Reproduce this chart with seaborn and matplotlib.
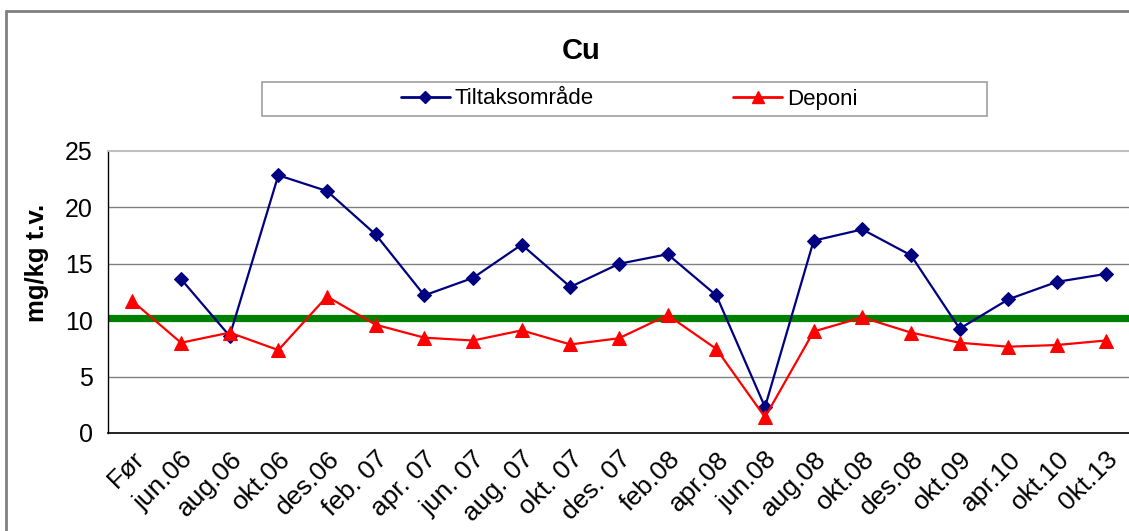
import numpy as np
import pandas as pd
import matplotlib
matplotlib.use("Agg")
import matplotlib.pyplot as plt
from matplotlib.lines import Line2D
from matplotlib.patches import Rectangle
import seaborn as sns

categories = ["Før", "jun.06", "aug.06", "okt.06", "des.06", "feb. 07", "apr. 07",
              "jun. 07", "aug. 07", "okt. 07", "des. 07", "feb.08", "apr.08", "jun.08",
              "aug.08", "okt.08", "des.08", "okt.09", "apr.10", "okt.10", "0kt.13"]
tiltak = [np.nan, 13.65, 8.6, 22.85, 21.45, 17.6, 12.2, 13.75, 16.7, 12.95, 15.0, 15.85,
          12.2, 2.3, 17.05, 18.05, 15.75, 9.25, 11.85, 13.4, 14.1]
deponi = [11.7, 8.0, 8.9, 7.35, 12.1, 9.6, 8.45, 8.2, 9.1, 7.85, 8.4, 10.45, 7.45, 1.4,
          9.0, 10.25, 8.9, 8.0, 7.65, 7.8, 8.2]
grense = 10.2
title = "Cu"
ylabel = "mg/kg t.v."
series_names = ["Tiltaksområde", "Deponi"]

sns.set_style("white")
plt.rcParams["font.family"] = ["Liberation Sans", "DejaVu Sans"]
plt.rcParams["text.color"] = "black"
plt.rcParams["axes.labelcolor"] = "black"
plt.rcParams["xtick.labelcolor"] = "black"
plt.rcParams["ytick.labelcolor"] = "black"

fig = plt.figure(figsize=(11.29, 5.31), dpi=100)
ax = fig.add_axes([108 / 1129, 1 - 433 / 531, 1022 / 1129, 282 / 531])

idx = np.arange(len(categories))
df = pd.DataFrame({"x": idx, "tiltak": tiltak, "deponi": deponi})

ax.axhline(grense, color="#008000", lw=5.2, zorder=2)
sns.lineplot(data=df.dropna(subset=["tiltak"]), x="x", y="tiltak", ax=ax, color="#000080",
             lw=1.6, marker="D", markersize=7.5, markeredgecolor="#000080", zorder=3)
sns.lineplot(data=df, x="x", y="deponi", ax=ax, color="#FF0000",
             lw=1.6, marker="^", markersize=10, markeredgecolor="#FF0000", zorder=3)

ax.set_xlim(-0.5, len(categories) - 0.5)
ax.set_ylim(0, 25)
ax.set_yticks([0, 5, 10, 15, 20, 25])
ax.set_xticks(idx)
ax.set_xticklabels(categories, rotation=45, ha="right", rotation_mode="anchor", fontsize=19)
ax.set_xticks(np.arange(-0.5, len(categories), 1.0), minor=True)
ax.tick_params(axis="x", which="major", length=0, pad=10)
ax.tick_params(axis="x", which="minor", length=7, width=1.2, color="#808080", direction="out")
ax.tick_params(axis="y", length=7, width=1, color="#000000", direction="out", labelsize=18, pad=4)
ax.set_xlabel("")
ax.set_ylabel(ylabel, fontsize=18.5, fontweight="bold")
ax.yaxis.set_label_coords((49 - 108) / 1022, (433 - 263) / 282)

for v in [5, 10, 15, 20]:
    ax.axhline(v, color="#808080", lw=1.0, zorder=1)
ax.spines["right"].set_visible(False)
ax.spines["top"].set_color("#c0c0c0")
ax.spines["top"].set_linewidth(1.5)
ax.spines["left"].set_color("#000000")
ax.spines["bottom"].set_color("#000000")
ax.spines["left"].set_linewidth(1.0)
ax.spines["bottom"].set_linewidth(1.2)

fig.text(581 / 1129, 1 - 51 / 531, title, ha="center", va="center", fontsize=21, fontweight="bold")

# legend frame
fig.add_artist(Rectangle((262 / 1129, 1 - 116 / 531), 725 / 1129, 34 / 531,
                         transform=fig.transFigure, fill=False, edgecolor="#a0a0a0", lw=1.2))
handles = [Line2D([], [], color="#000080", lw=2, marker="D", markersize=6),
           Line2D([], [], color="#FF0000", lw=2, marker="^", markersize=8)]
fig.legend(handles, series_names, loc="center", bbox_to_anchor=(629 / 1129, 1 - 99 / 531),
           ncol=2, frameon=False, fontsize=16, handlelength=2.2, handletextpad=0.2,
           columnspacing=6.3, borderpad=0, borderaxespad=0)

# outer chart border
fig.add_artist(Line2D([6 / 1129, 6 / 1129], [0, 1 - 11 / 531], transform=fig.transFigure,
                      color="#808080", lw=2))
fig.add_artist(Line2D([6 / 1129, 1], [1 - 11 / 531, 1 - 11 / 531], transform=fig.transFigure,
                      color="#808080", lw=2))

fig.savefig("out.png", dpi=100)
